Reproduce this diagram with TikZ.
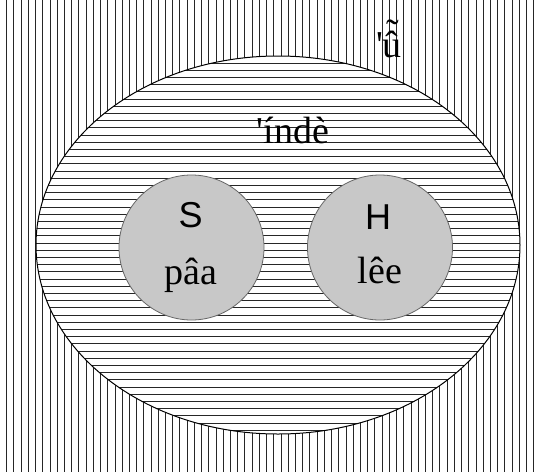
\documentclass[tikz,border=0pt]{standalone}
\usepackage{fontspec}
\usetikzlibrary{shapes.geometric}
\newfontfamily\tms{Liberation Serif}
\newfontfamily\arl{Liberation Sans}
\definecolor{cfill}{RGB}{200,200,200}
\begin{document}
\begin{tikzpicture}[x=1pt,y=-1pt,
  hatch/.style={line width=1pt, black!85},
  serif/.style={anchor=base, inner sep=0pt, font=\tms\fontsize{38}{40}\selectfont},
  sans/.style={anchor=base, inner sep=0pt, font=\arl\fontsize{36}{38}\selectfont},
  disc/.style={circle, minimum size=145pt, inner sep=0pt, fill=cfill, draw=black!60, line width=0.8pt}]
\useasboundingbox (0,0) rectangle (536,472);
\fill[white] (0,0) rectangle (536,472);
\foreach \i in {0,...,73} \draw[hatch] (6.7+\i*7.22,0) -- (6.7+\i*7.22,472);
\node (outer) [ellipse, minimum width=484pt, minimum height=378pt, inner sep=0pt, fill=white] at (278,245) {};
\begin{scope}
  \clip (278,245) ellipse [x radius=242, y radius=189];
  \foreach \j in {0,...,65} \draw[hatch] (0,5.5+\j*7.2) -- (536,5.5+\j*7.2);
\end{scope}
\draw[line width=1pt, black] (278,245) ellipse [x radius=242, y radius=189];
\node (S) [disc] at (191.5,247.5) {};
\node (H) [disc] at (380,247.5) {};
\node (Slab) [sans] at (190.7,227) {S};
\node (Sword) [serif] at (190.7,284) {pâa};
\node (Hlab) [sans] at (378,229) {H};
\node (Hword) [serif] at (380,283) {lêe};
\node (inner) [serif] at (293,143) {\char"27 índè};
\node (top) [serif] at (389,57) {\char"27\ooalign{û\cr\hidewidth\raisebox{0.3em}{\char"02DC}\hidewidth\cr}};
\end{tikzpicture}
\end{document}
